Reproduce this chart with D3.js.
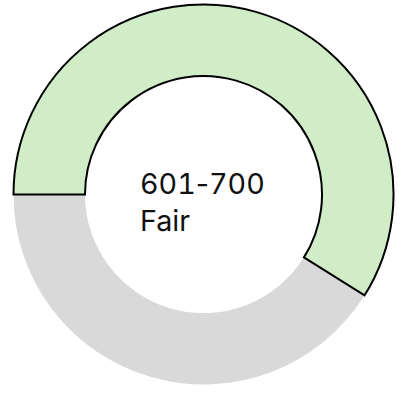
<!DOCTYPE html>
<html><head><meta charset="utf-8">
<script src="https://cdn.jsdelivr.net/npm/d3@7"></script>
<style>html,body{margin:0;padding:0;background:#fff;}svg{display:block;}</style>
</head><body><svg id="c" width="413" height="400"></svg>
<script>
const categories = ["Score", "Remaining"];
const values = [58.9, 41.1];
const colors = ["#d1edc8", "#d9d9d9"];
const labelLines = ["601-700", "Fair"];

const svg = d3.select("#c");
const cx = 203.5, cy = 194.5, outerR = 190, innerR = 118.5;
const g = svg.append("g").attr("transform", `translate(${cx},${cy})`);
const pie = d3.pie().sort(null).startAngle(-Math.PI / 2).endAngle(1.5 * Math.PI);
const arcs = pie(values);
const arc = d3.arc().innerRadius(innerR).outerRadius(outerR);
[1, 0].forEach(i => {
  g.append("path")
    .attr("d", arc(arcs[i]))
    .attr("fill", colors[i])
    .attr("stroke", i === 0 ? "#000" : "none")
    .attr("stroke-width", 2)
    .attr("stroke-linejoin", "miter");
});
labelLines.forEach((s, i) => {
  const t = svg.append("text").attr("font-family", "Inter, sans-serif").attr("font-size", 28.7)
    .attr("fill", "#111").attr("x", 140).attr("y", 193.5 + i * 37.5);
  const parts = s.match(/\d+|\D+/g);
  parts.forEach(p => {
    t.append("tspan")
      .style("font-feature-settings", /\d/.test(p) ? "'tnum' 1" : "normal")
      .text(p);
  });
});
</script></body></html>
